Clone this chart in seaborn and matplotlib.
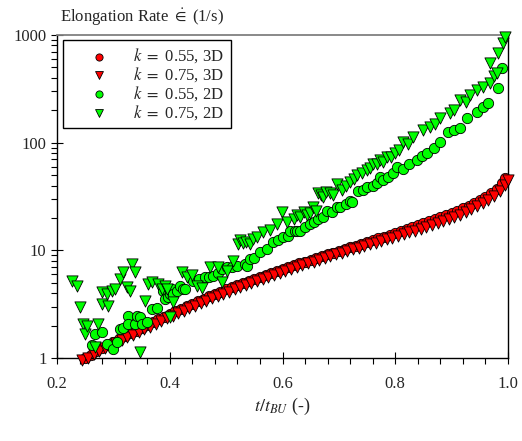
import numpy as np
import seaborn as sns
import matplotlib.pyplot as plt
from matplotlib.ticker import MultipleLocator, LogLocator, NullFormatter

# k = 0.55, 3D (red circles)
t_055_3d = [0.25, 0.26, 0.27, 0.28, 0.29, 0.30, 0.31, 0.32, 0.33, 0.34,
            0.35, 0.36, 0.37, 0.38, 0.39, 0.40, 0.41, 0.42, 0.43, 0.44,
            0.45, 0.46, 0.47, 0.48, 0.49, 0.50, 0.51, 0.52, 0.53, 0.54,
            0.55, 0.56, 0.57, 0.58, 0.59, 0.60, 0.61, 0.62, 0.63, 0.64,
            0.65, 0.66, 0.67, 0.68, 0.69, 0.70, 0.71, 0.72, 0.73, 0.74,
            0.75, 0.76, 0.77, 0.78, 0.79, 0.80, 0.81, 0.82, 0.83, 0.84,
            0.85, 0.86, 0.87, 0.88, 0.89, 0.90, 0.91, 0.92, 0.93, 0.94,
            0.95, 0.96, 0.97, 0.98, 0.99, 0.995]
e_055_3d = [1.00, 1.07, 1.15, 1.24, 1.33, 1.42, 1.51, 1.60, 1.70, 1.80,
            1.91, 2.03, 2.15, 2.28, 2.42, 2.57, 2.72, 2.88, 3.04, 3.20,
            3.37, 3.55, 3.74, 3.93, 4.13, 4.33, 4.53, 4.74, 4.96, 5.19,
            5.42, 5.66, 5.91, 6.17, 6.44, 6.72, 7.00, 7.28, 7.57, 7.87,
            8.18, 8.50, 8.83, 9.17, 9.52, 9.88, 10.25, 10.63, 11.02, 11.43,
            11.85, 12.40, 12.90, 13.40, 13.90, 14.50, 15.10, 15.80, 16.40, 17.10,
            17.80, 18.60, 19.40, 20.30, 21.20, 22.20, 23.30, 24.50, 25.90, 27.50,
            29.30, 31.40, 33.80, 37.00, 42.00, 47.00]

# k = 0.75, 3D (red triangles)
t_075_3d = [0.245, 0.255, 0.265, 0.275, 0.285, 0.295, 0.305, 0.315, 0.325, 0.335,
            0.345, 0.355, 0.365, 0.375, 0.385, 0.395, 0.405, 0.415, 0.425, 0.435,
            0.445, 0.455, 0.465, 0.475, 0.485, 0.495, 0.505, 0.515, 0.525, 0.535,
            0.545, 0.555, 0.565, 0.575, 0.585, 0.595, 0.605, 0.615, 0.625, 0.635,
            0.645, 0.655, 0.665, 0.675, 0.685, 0.695, 0.705, 0.715, 0.725, 0.735,
            0.745, 0.755, 0.765, 0.775, 0.785, 0.795, 0.805, 0.815, 0.825, 0.835,
            0.845, 0.855, 0.865, 0.875, 0.885, 0.895, 0.905, 0.915, 0.925, 0.935,
            0.945, 0.955, 0.965, 0.975, 0.985, 0.995, 1.000]
e_075_3d = [0.96, 1.01, 1.08, 1.15, 1.23, 1.31, 1.39, 1.47, 1.56, 1.65,
            1.75, 1.85, 1.96, 2.08, 2.20, 2.33, 2.47, 2.61, 2.76, 2.91,
            3.07, 3.23, 3.40, 3.58, 3.76, 3.95, 4.14, 4.34, 4.54, 4.75,
            4.97, 5.19, 5.42, 5.66, 5.91, 6.17, 6.43, 6.70, 6.98, 7.26,
            7.55, 7.85, 8.16, 8.48, 8.81, 9.15, 9.50, 9.86, 10.23, 10.61,
            11.00, 11.40, 11.81, 12.23, 12.67, 13.12, 13.60, 14.11, 14.65, 15.23,
            15.84, 16.49, 17.19, 17.93, 18.72, 19.57, 20.50, 21.50, 22.70, 24.00,
            25.60, 27.40, 29.40, 32.00, 35.50, 40.50, 45.00]

# k = 0.55, 2D (green circles)
t_055_2d = [0.262, 0.267, 0.280, 0.289, 0.299, 0.306, 0.312, 0.317, 0.326, 0.326,
            0.338, 0.342, 0.347, 0.351, 0.360, 0.369, 0.377, 0.388, 0.392, 0.397,
            0.400, 0.404, 0.406, 0.413, 0.418, 0.424, 0.427, 0.441, 0.452, 0.463,
            0.470, 0.477, 0.485, 0.493, 0.502, 0.510, 0.520, 0.534, 0.537, 0.542,
            0.550, 0.560, 0.573, 0.583, 0.592, 0.601, 0.610, 0.613, 0.622, 0.626,
            0.631, 0.640, 0.649, 0.656, 0.663, 0.672, 0.679, 0.688, 0.697, 0.702,
            0.712, 0.720, 0.723, 0.734, 0.742, 0.750, 0.760, 0.768, 0.773, 0.778,
            0.787, 0.796, 0.803, 0.814, 0.825, 0.839, 0.848, 0.856, 0.868, 0.879,
            0.894, 0.905, 0.915, 0.927, 0.945, 0.955, 0.965, 0.982, 0.989]
e_055_2d = [1.32, 1.67, 1.74, 1.35, 1.21, 1.41, 1.86, 1.90, 2.45, 2.06,
            2.06, 2.45, 2.40, 2.06, 2.15, 2.84, 2.90, 4.17, 3.52, 3.67,
            3.90, 4.35, 3.91, 4.17, 4.64, 4.35, 4.35, 5.16, 5.40, 5.62,
            5.70, 5.74, 6.20, 6.67, 6.96, 7.00, 7.20, 7.42, 7.10, 8.26,
            8.50, 9.60, 10.2, 11.9, 12.6, 13.2, 13.5, 15.0, 15.2, 15.0,
            15.0, 16.5, 17.5, 18.5, 19.4, 20.4, 23.0, 22.5, 25.0, 25.0,
            27.0, 28.6, 28.4, 35.2, 36.0, 38.5, 40.0, 42.6, 48.5, 45.4,
            48.0, 52.7, 60.0, 57.4, 64.0, 69.6, 75.0, 80.8, 90.0, 102,
            126, 132, 138, 170, 194, 215, 235, 323, 495]

# k = 0.75, 2D (green triangles)
t_075_2d = [0.227, 0.235, 0.241, 0.246, 0.250, 0.253, 0.267, 0.273, 0.280, 0.280,
            0.289, 0.290, 0.298, 0.303, 0.312, 0.317, 0.324, 0.330, 0.333, 0.338,
            0.347, 0.356, 0.361, 0.369, 0.379, 0.386, 0.392, 0.395, 0.400, 0.406,
            0.422, 0.431, 0.440, 0.448, 0.457, 0.471, 0.486, 0.493, 0.502, 0.512,
            0.521, 0.525, 0.530, 0.535, 0.542, 0.548, 0.555, 0.566, 0.578, 0.590,
            0.599, 0.608, 0.620, 0.625, 0.631, 0.638, 0.643, 0.648, 0.654, 0.660,
            0.663, 0.668, 0.672, 0.678, 0.684, 0.690, 0.697, 0.706, 0.713, 0.720,
            0.726, 0.732, 0.741, 0.750, 0.755, 0.761, 0.767, 0.773, 0.779, 0.785,
            0.792, 0.800, 0.807, 0.814, 0.823, 0.832, 0.849, 0.862, 0.870, 0.879,
            0.897, 0.905, 0.915, 0.925, 0.933, 0.945, 0.956, 0.968, 0.968, 0.975,
            0.981, 0.982, 0.991, 0.995]
e_075_2d = [5.16, 4.64, 2.97, 2.06, 1.67, 1.98, 1.26, 2.06, 3.16, 4.08,
            3.91, 3.03, 4.17, 4.35, 5.39, 6.25, 4.54, 4.17, 7.42, 6.25,
            1.14, 3.37, 4.85, 5.05, 4.85, 4.35, 4.64, 4.35, 2.40, 3.30,
            6.25, 5.62, 5.90, 4.64, 4.50, 6.96, 6.96, 5.05, 6.40, 7.90,
            11.4, 12.5, 11.8, 12.0, 11.4, 12.8, 13.2, 14.7, 15.6, 17.4,
            22.5, 18.2, 19.5, 21.5, 20.6, 22.5, 21.5, 22.0, 25.0, 23.0,
            34.4, 33.0, 31.6, 35.0, 34.4, 33.0, 40.9, 36.7, 40.0, 43.5,
            46.0, 50.6, 52.7, 56.3, 58.0, 62.9, 63.0, 69.6, 66.0, 74.3,
            73.0, 80.8, 85.0, 102, 98.0, 113, 132, 140, 150, 170,
            189, 200, 250, 240, 278, 310, 330, 359, 550, 420,
            444, 680, 840, 955]

sns.set_style("ticks")
plt.rcParams['font.family'] = ['Liberation Serif', 'DejaVu Serif']
plt.rcParams['mathtext.fontset'] = 'stix'

fig = plt.figure(figsize=(5.22, 4.41), dpi=100)
ax = fig.add_axes([57 / 522, 1 - 358 / 441, 451 / 522, 323 / 441])

series = [
    (t_055_3d, e_055_3d, 'o', '#ff0000', r'$k$ $=$ 0.55, 3D', 55),
    (t_075_3d, e_075_3d, 'v', '#ff0000', r'$k$ $=$ 0.75, 3D', 65),
    (t_055_2d, e_055_2d, 'o', '#00ff00', r'$k$ $=$ 0.55, 2D', 55),
    (t_075_2d, e_075_2d, 'v', '#00ff00', r'$k$ $=$ 0.75, 2D', 65),
]
for i, (t, e, m, c, lab, s) in enumerate(series):
    sns.scatterplot(x=t, y=e, marker=m, color=c, edgecolor='black',
                    linewidth=0.6, s=s, label=lab, ax=ax, zorder=2 + i,
                    clip_on=False)

ax.set_yscale('log')
ax.set_xlim(0.2, 1.0)
ax.set_ylim(1, 1000)

ax.set_xticks([0.2, 0.4, 0.6, 0.8, 1.0])
ax.set_xticklabels(['0.2', '0.4', '0.6', '0.8', '1.0'])
ax.xaxis.set_minor_locator(MultipleLocator(0.04))
ax.set_yticks([1, 10, 100, 1000])
ax.set_yticklabels(['1', '10', '100', '1000'])
ax.yaxis.set_minor_locator(LogLocator(base=10, subs=np.arange(2, 10)))
ax.yaxis.set_minor_formatter(NullFormatter())

ax.tick_params(which='major', direction='inout', length=8, width=0.8,
               labelsize=12, color='black')
ax.tick_params(which='minor', direction='out', length=4, width=0.8,
               color='black')
ax.tick_params(axis='x', which='major', pad=9)

for side in ['left', 'right', 'bottom']:
    ax.spines[side].set_color('black')
    ax.spines[side].set_linewidth(1.0)
ax.spines['top'].set_color('#808080')
ax.spines['top'].set_linewidth(1.3)
ax.spines['right'].set_visible(True)
ax.spines['top'].set_visible(True)

ax.set_xlabel(r'$t/t_{BU}$ (-)', fontsize=13, labelpad=3)
fig.text(60 / 522, 1 - 17 / 441, r'Elongation Rate $\dot{\in}$ (1/s)',
         fontsize=12, va='center', ha='left')

leg = ax.legend(loc='upper left', bbox_to_anchor=(63 / 522, 1 - 40 / 441),
                bbox_transform=fig.transFigure, borderaxespad=0,
                fontsize=12, frameon=True, fancybox=False, edgecolor='black',
                framealpha=1, borderpad=0.4, handlelength=3.5,
                handletextpad=0.3, labelspacing=0.0, markerscale=0.7)
leg.get_frame().set_linewidth(1.0)

fig.savefig('out.png', dpi=100)
